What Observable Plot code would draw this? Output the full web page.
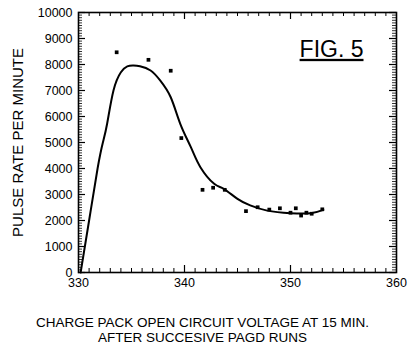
<!DOCTYPE html>
<html>
<head>
<meta charset="utf-8">
<script src="https://cdn.jsdelivr.net/npm/d3@7"></script>
<script src="https://cdn.jsdelivr.net/npm/@observablehq/plot@0.6"></script>
<style>
  html, body { margin: 0; padding: 0; background: #fff; }
  svg { font-family: "Liberation Sans", Arial, sans-serif; }
</style>
</head>
<body>
<div id="chart"></div>
<script>
// Measured points (voltage, pulse rate per minute)
const pointVoltage = [333.6, 336.6, 338.7, 339.7, 341.7, 342.7, 343.8, 345.8, 346.9, 348.0, 349.0, 350.0, 350.5, 351.0, 351.5, 352.0, 353.0];
const pointRate    = [8470, 8180, 7760, 5170, 3180, 3260, 3180, 2360, 2510, 2420, 2470, 2300, 2470, 2190, 2300, 2260, 2430];

// Fitted curve
const curveVoltage = [330.2, 331.0, 331.8, 332.3, 332.7, 333.3, 334.0, 334.6, 335.2, 335.8, 336.8, 337.7, 338.7, 339.6, 340.6, 341.5, 342.8, 343.7, 345.0, 346.2, 347.8, 350.0, 351.9, 353.1];
const curveRate    = [0, 2000, 4000, 5000, 5720, 7000, 7700, 7930, 7960, 7930, 7770, 7390, 6740, 5720, 4820, 4050, 3410, 3220, 2830, 2580, 2380, 2280, 2280, 2410];

// Axis ticks
const xDomain = [330, 360];
const yDomain = [0, 10000];
const xLabelTicks = [330, 340, 350, 360];
const yLabelTicks = [0, 1000, 2000, 3000, 4000, 5000, 6000, 7000, 8000, 9000, 10000];
const xMinorTicks = [330, 331, 332, 333, 334, 335, 336, 337, 338, 339, 340, 341, 342, 343, 344, 345, 346, 347, 348, 349, 350, 351, 352, 353, 354, 355, 356, 357, 358, 359, 360];
const xMajorTicks = [340, 350];
const yMinorTicks = Array.from({length: 101}, (_, i) => i * 100);
const yMajorTicks = yLabelTicks;

const title = "FIG. 5";
const yTitle = "PULSE RATE PER MINUTE";
const xTitle1 = "CHARGE PACK OPEN CIRCUIT VOLTAGE AT 15 MIN.";
const xTitle2 = "AFTER SUCCESIVE PAGD RUNS";

const points = pointVoltage.map((v, i) => ({v, r: pointRate[i]}));
const curve = curveVoltage.map((v, i) => ({v, r: curveRate[i]}));

const W = 409, H = 344;
const mL = 78, mR = 13, mT = 12, mB = 72;
const fw = W - mL - mR, fh = H - mT - mB;
const minorLen = 4, majorLen = 7;

const plot = Plot.plot({
  width: W,
  height: H,
  marginLeft: mL,
  marginRight: mR,
  marginTop: mT,
  marginBottom: mB,
  style: {fontFamily: "Liberation Sans, Arial, sans-serif", fontSize: "12px", color: "#000", background: "#fff"},
  x: {domain: xDomain, axis: null},
  y: {domain: yDomain, axis: null},
  marks: [
    Plot.frame({stroke: "black", fill: "none", strokeWidth: 1.6}),
    // inward ticks on all four sides
    Plot.tickX(xMinorTicks, {x: d => d, insetTop: fh - minorLen, stroke: "black", strokeWidth: 1}),
    Plot.tickX(xMinorTicks, {x: d => d, insetBottom: fh - minorLen, stroke: "black", strokeWidth: 1}),
    Plot.tickX(xMajorTicks, {x: d => d, insetTop: fh - majorLen, stroke: "black", strokeWidth: 1.2}),
    Plot.tickX(xMajorTicks, {x: d => d, insetBottom: fh - majorLen, stroke: "black", strokeWidth: 1.2}),
    Plot.tickY(yMinorTicks, {y: d => d, insetRight: fw - minorLen, stroke: "black", strokeWidth: 0.8}),
    Plot.tickY(yMinorTicks, {y: d => d, insetLeft: fw - minorLen, stroke: "black", strokeWidth: 0.8}),
    Plot.tickY(yMajorTicks, {y: d => d, insetRight: fw - majorLen, stroke: "black", strokeWidth: 1.2}),
    Plot.tickY(yMajorTicks, {y: d => d, insetLeft: fw - majorLen, stroke: "black", strokeWidth: 1.2}),
    // tick labels
    Plot.axisX({anchor: "bottom", ticks: xLabelTicks, tickSize: 0, tickPadding: 6, label: null, fontSize: 12.5}),
    Plot.axisY({anchor: "left", ticks: yLabelTicks, tickSize: 0, tickPadding: 6, label: null, tickFormat: d => String(d), fontSize: 12.5}),
    // data
    Plot.line(curve, {x: "v", y: "r", curve: "natural", stroke: "black", strokeWidth: 2}),
    Plot.dot(points, {x: "v", y: "r", symbol: "square", r: 2.1, fill: "black", stroke: "none"}),
    // texts
    Plot.text([title], {frameAnchor: "top-right", text: d => d, dx: -33, dy: 28, lineAnchor: "top", textAnchor: "end", fontSize: 23, fill: "black"}),
    Plot.text([yTitle], {frameAnchor: "left", text: d => d, rotate: -90, dx: -60, textAnchor: "middle", fontSize: 15, fill: "black"}),
    Plot.text([xTitle1], {frameAnchor: "bottom", text: d => d, dx: -35, dy: 50, textAnchor: "middle", lineAnchor: "middle", fontSize: 13.5, fill: "black"}),
    Plot.text([xTitle2], {frameAnchor: "bottom", text: d => d, dx: -35, dy: 65, textAnchor: "middle", lineAnchor: "middle", fontSize: 13.5, fill: "black"})
  ]
});

d3.select(plot).selectAll("text").filter(function() { return this.textContent === title; })
  .style("text-decoration", "underline");

document.getElementById("chart").appendChild(plot);
</script>
</body>
</html>
